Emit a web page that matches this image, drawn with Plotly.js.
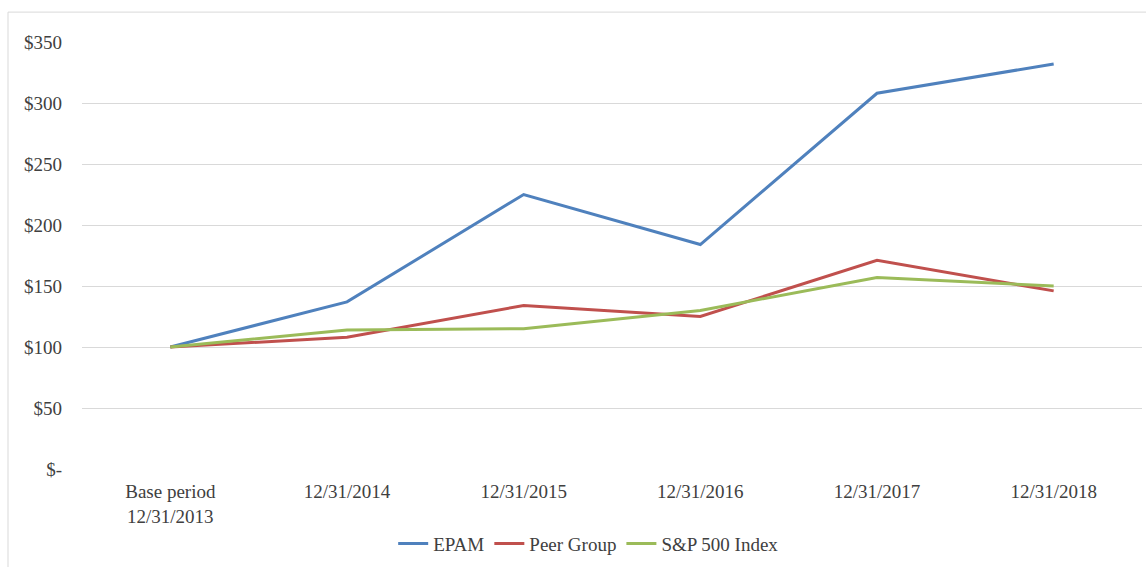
<!DOCTYPE html>
<html>
<head>
<meta charset="utf-8">
<script src="https://cdn.plot.ly/plotly-3.0.1.min.js"></script>
<style>html,body{margin:0;padding:0;background:#fff;}#chart{width:1146px;height:567px;}</style>
</head>
<body>
<div id="chart"></div>
<script>
const categories = ["Base period<br>12/31/2013", "12/31/2014", "12/31/2015", "12/31/2016", "12/31/2017", "12/31/2018"];
const epam = [100, 137, 225, 184, 308, 332];
const peerGroup = [100, 108, 134, 125, 171, 146];
const sp500 = [100, 114, 115, 130, 157, 150];
const yTickVals = [0, 50, 100, 150, 200, 250, 300, 350];
const yTickText = ["$-", "$50", "$100", "$150", "$200", "$250", "$300", "$350"];

const font = {family: "Liberation Serif, Times New Roman, serif", size: 19, color: "#404040"};

const traces = [
  {x: categories, y: epam, name: "EPAM", type: "scatter", mode: "lines", line: {color: "#4F81BD", width: 3}},
  {x: categories, y: peerGroup, name: "Peer Group", type: "scatter", mode: "lines", line: {color: "#C0504D", width: 3}},
  {x: categories, y: sp500, name: "S&P 500 Index", type: "scatter", mode: "lines", line: {color: "#9BBB59", width: 3}}
];

const layout = {
  width: 1146, height: 567,
  margin: {l: 82, r: 4, t: 42, b: 96},
  paper_bgcolor: "#fff", plot_bgcolor: "#fff",
  font: font,
  showlegend: true,
  legend: {orientation: "h", x: 0.478, xanchor: "center", y: -0.175, yanchor: "middle", font: font, itemwidth: 30, tracegroupgap: 0},
  xaxis: {
    type: "category", range: [-0.5, 5.5], showgrid: false, zeroline: false, showline: false,
    ticks: "", tickfont: font, ticklabelstandoff: 9
  },
  yaxis: {
    range: [0, 350], tickvals: yTickVals, ticktext: yTickText, showgrid: true, gridcolor: "#d9d9d9", gridwidth: 1,
    zeroline: false, showline: false, ticks: "", tickfont: font, ticklabelstandoff: 19
  },
  shapes: [
    {type: "line", xref: "paper", yref: "paper", x0: -0.0698, x1: -0.0698, y0: -0.3, y1: 1.07, line: {color: "#d9d9d9", width: 1}},
    {type: "line", xref: "paper", yref: "paper", x0: -0.0698, x1: 1.01, y0: 1.07, y1: 1.07, line: {color: "#d9d9d9", width: 1}}
  ]
};

Plotly.newPlot("chart", traces, layout, {displayModeBar: false, staticPlot: true});
</script>
</body>
</html>
